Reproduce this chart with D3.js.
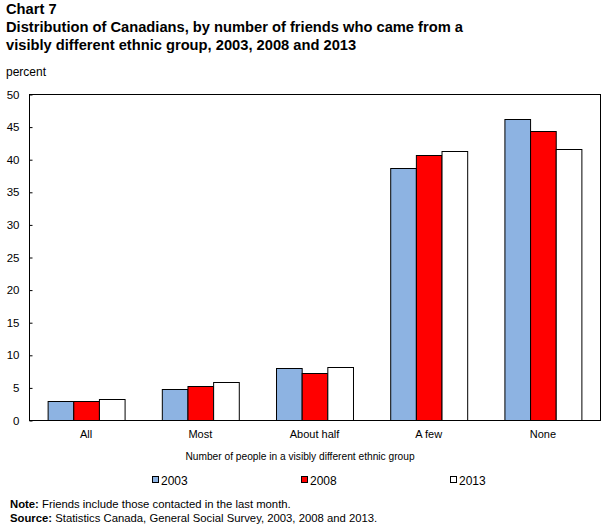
<!DOCTYPE html>
<html>
<head>
<meta charset="utf-8">
<script src="https://cdn.jsdelivr.net/npm/d3@7"></script>
<style>
  body { margin: 0; background: #fff; }
  svg { display: block; font-family: Arial, "Liberation Sans", sans-serif; }
</style>
</head>
<body>
<svg id="chart" width="607" height="531"></svg>
<script>
const categories = ["All", "Most", "About half", "A few", "None"];
const seriesNames = ["2003", "2008", "2013"];
const values2003 = [2.9, 4.7, 7.9, 38.6, 46.1];
const values2008 = [2.9, 5.2, 7.2, 40.6, 44.4];
const values2013 = [3.2, 5.9, 8.2, 41.2, 41.5];
const yTicks = [0, 5, 10, 15, 20, 25, 30, 35, 40, 45, 50];
const colors = ["#8DB3E2", "#FF0000", "#FFFFFF"];

const series = [values2003, values2008, values2013];
const svg = d3.select("#chart");

const plotLeft = 29, plotRight = 600, plotTop = 94, plotBottom = 420;

const x0 = d3.scaleBand().domain(categories).range([plotLeft, plotRight]).paddingInner(0.326).paddingOuter(0.163);
const x1 = d3.scaleBand().domain(seriesNames).range([0, x0.bandwidth()]).padding(0);
const y = d3.scaleLinear().domain([0, 50]).range([plotBottom, plotTop]);
const color = d3.scaleOrdinal().domain(seriesNames).range(colors);

// Title
const title = svg.append("g").attr("font-weight", "bold").attr("font-size", "14.7px").attr("fill", "#000");
title.append("text").attr("x", 6).attr("y", 14).text("Chart 7");
title.append("text").attr("x", 6).attr("y", 32).text("Distribution of Canadians, by number of friends who came from a");
title.append("text").attr("x", 6).attr("y", 50).text("visibly different ethnic group, 2003, 2008 and 2013");

svg.append("text").attr("x", 6).attr("y", 76).attr("font-size", "12px").text("percent");

// Bars
const groups = svg.append("g").selectAll("g").data(categories).join("g")
  .attr("transform", d => `translate(${x0(d)},0)`);
groups.selectAll("rect")
  .data((c, i) => seriesNames.map((s, j) => ({ s, v: series[j][i] })))
  .join("rect")
  .attr("x", d => x1(d.s) + 0.5)
  .attr("y", d => Math.round(y(d.v)) + 0.5)
  .attr("width", x1.bandwidth())
  .attr("height", d => plotBottom - Math.round(y(d.v)))
  .attr("fill", d => color(d.s))
  .attr("stroke", "#000")
  .attr("stroke-width", 1);

// Frame
svg.append("rect").attr("x", plotLeft + 0.5).attr("y", plotTop + 0.5)
  .attr("width", plotRight - plotLeft).attr("height", plotBottom - plotTop)
  .attr("fill", "none").attr("stroke", "#000").attr("stroke-width", 1);

// Y axis
const yAxis = d3.axisLeft(y).tickValues(yTicks).tickSize(-3).tickPadding(10);
const yg = svg.append("g").attr("transform", `translate(${plotLeft + 0.5},0.5)`).call(yAxis);
yg.select(".domain").remove();
yg.selectAll("text").attr("font-size", "11.5px").attr("fill", "#000").attr("font-family", "Arial, 'Liberation Sans', sans-serif");
yg.selectAll("line").attr("stroke", "#000");

// X axis
const xAxis = d3.axisBottom(x0).tickSize(0).tickPadding(10);
const xg = svg.append("g").attr("transform", `translate(0,${plotBottom + 0.5})`).call(xAxis);
xg.select(".domain").remove();
xg.selectAll("text").attr("font-size", "11px").attr("fill", "#000").attr("font-family", "Arial, 'Liberation Sans', sans-serif");

svg.append("text").attr("x", 300).attr("y", 460).attr("text-anchor", "middle")
  .attr("font-size", "10.2px").text("Number of people in a visibly different ethnic group");

// Legend
const legendX = [152, 301, 450];
const lg = svg.append("g").selectAll("g").data(seriesNames).join("g")
  .attr("transform", (d, i) => `translate(${legendX[i]},476)`);
lg.append("rect").attr("x", 0.5).attr("y", 0.5).attr("width", 6).attr("height", 6)
  .attr("fill", d => color(d)).attr("stroke", "#000");
lg.append("text").attr("x", 9).attr("y", 8.5).attr("font-size", "12px").text(d => d);

// Notes
const note = svg.append("g").attr("font-size", "11.3px");
const n1 = note.append("text").attr("x", 10).attr("y", 508);
n1.append("tspan").attr("font-weight", "bold").text("Note: ");
n1.append("tspan").text("Friends include those contacted in the last month.");
const n2 = note.append("text").attr("x", 10).attr("y", 522);
n2.append("tspan").attr("font-weight", "bold").text("Source: ");
n2.append("tspan").text("Statistics Canada, General Social Survey, 2003, 2008 and 2013.");
</script>
</body>
</html>
